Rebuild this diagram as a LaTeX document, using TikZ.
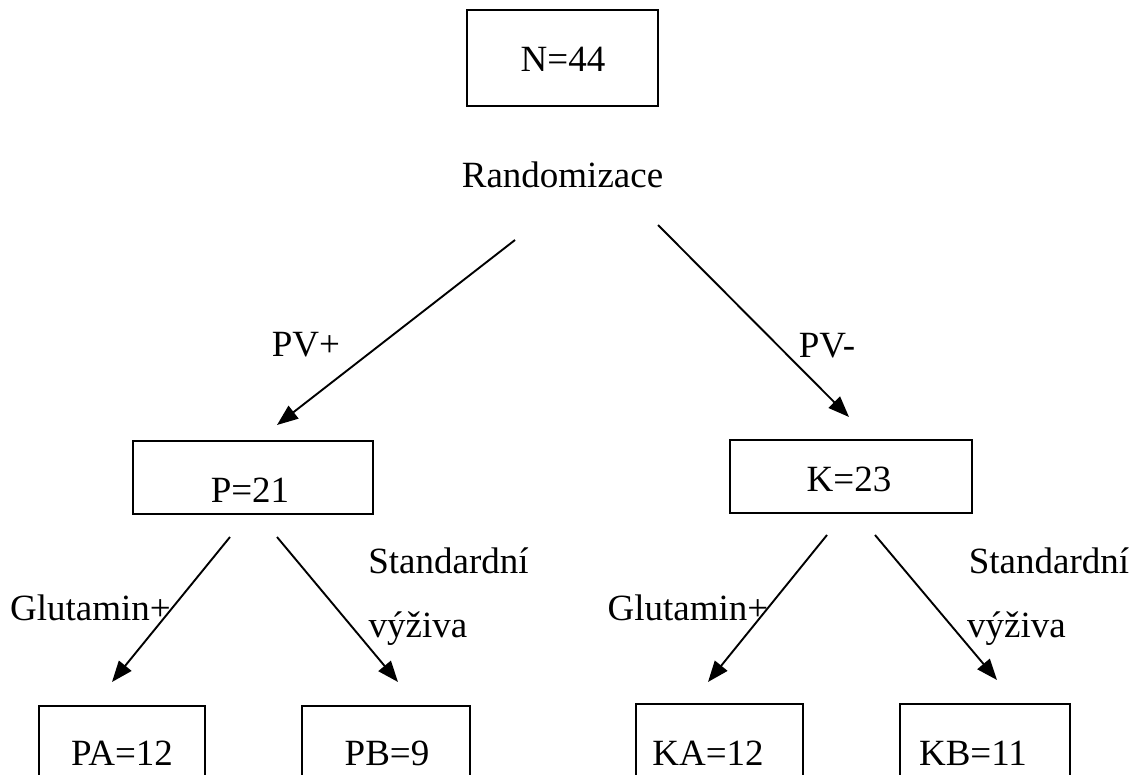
\documentclass[tikz,border=0pt]{standalone}
\usepackage{fontspec}
\setmainfont{Liberation Serif}
\usetikzlibrary{arrows.meta}
\tikzset{
  box/.style={draw=black, line width=1.6pt, rectangle, inner sep=0pt},
  lbl/.style={anchor=base, inner sep=0pt, font=\fontsize{37}{40}\selectfont},
  conn/.style={line width=1.9pt, -{Triangle[length=21pt,width=16pt]}}
}
\begin{document}
\begin{tikzpicture}[x=1pt,y=-1pt]
\useasboundingbox (0,0) rectangle (1137,775);
\clip (0,0) rectangle (1137,775);
% boxes
\node[box, minimum width=191pt, minimum height=96pt] (N) at (562.5,58) {};
\node[box, minimum width=240pt, minimum height=73pt] (P) at (253,477.5) {};
\node[box, minimum width=242pt, minimum height=73pt] (K) at (851,476.5) {};
\node[box, minimum width=166pt, minimum height=96pt] (PA) at (122,754) {};
\node[box, minimum width=168pt, minimum height=96pt] (PB) at (386,754) {};
\node[box, minimum width=167pt, minimum height=96pt] (KA) at (719.5,752) {};
\node[box, minimum width=170pt, minimum height=96pt] (KB) at (985,752) {};
% texts
\node[lbl] (tN) at (563,72) {N=44};
\node[lbl] (tR) at (562.5,188) {Randomizace};
\node[lbl] (tPVp) at (306,356) {PV+};
\node[lbl] (tPVm) at (827,357) {PV-};
\node[lbl] (tP) at (250,502) {P=21};
\node[lbl] (tK) at (849,491) {K=23};
\node[lbl] (tG1) at (90.5,620) {Glutamin+};
\node[lbl] (tG2) at (688,620) {Glutamin+};
\node[lbl] (tS1) at (448.5,573) {Standardní};
\node[lbl] (tS2) at (1049,573) {Standardní};
\node[lbl] (tV1) at (418,637) {výživa};
\node[lbl] (tV2) at (1016.5,637) {výživa};
\node[lbl] (tPA) at (122,765) {PA=12};
\node[lbl] (tPB) at (387,765) {PB=9};
\node[lbl] (tKA) at (708,765) {KA=12};
\node[lbl] (tKB) at (973,765) {KB=11};
% connector ends
\coordinate (r1) at (515,240);
\coordinate (r1e) at (277,425);
\coordinate (r2) at (658,225);
\coordinate (r2e) at (849,417);
\coordinate (p1) at (230,537);
\coordinate (p1e) at (112,682);
\coordinate (p2) at (277,537);
\coordinate (p2e) at (398,682);
\coordinate (k1) at (827,535);
\coordinate (k1e) at (708,682);
\coordinate (k2) at (875,535);
\coordinate (k2e) at (997,680);
\draw[conn] (r1) -- (r1e);
\draw[conn] (r2) -- (r2e);
\draw[conn] (p1) -- (p1e);
\draw[conn] (p2) -- (p2e);
\draw[conn] (k1) -- (k1e);
\draw[conn] (k2) -- (k2e);
\end{tikzpicture}
\end{document}
